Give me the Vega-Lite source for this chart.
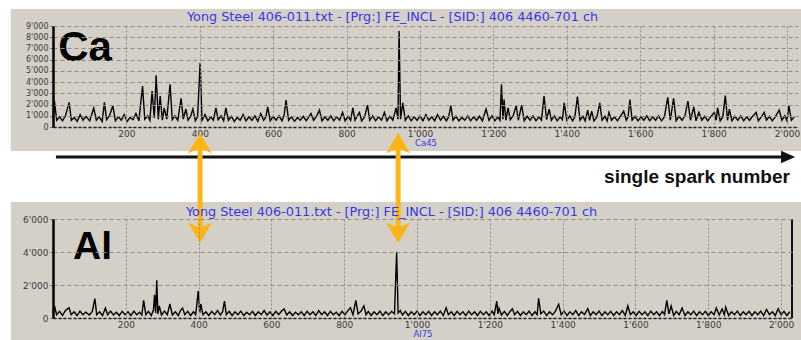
{
  "$schema": "https://vega.github.io/schema/vega-lite/v6.json",
  "padding": {"left": 10, "top": 8, "right": 0, "bottom": 0},
  "background": "white",
  "bounds": "flush",
  "spacing": 92,
  "config": {
    "view": {"stroke": null, "fill": "#d4d0c8"},
    "font": "Liberation Sans",
    "axis": {"labelFont": "DejaVu Sans", "labelFontSize": 9, "labelColor": "#3a3a3a", "labelOverlap": false, "labelSeparation": 0, "labelBound": false, "titleFont": "DejaVu Sans", "titleFontSize": 8.5, "titleFontWeight": "normal", "titleColor": "#3636e8", "gridColor": "#8c8c8c", "gridWidth": 1},
    "axisX": {"gridDash": [2, 2], "ticks": false, "labelPadding": 2, "titlePadding": 0, "domainColor": "#222", "domainDash": [3, 2], "domainWidth": 1.5},
    "axisY": {"gridDash": [4, 3], "tickSize": 3, "tickColor": "#666", "labelPadding": 2, "labelOverlap": false, "domainColor": "#000", "domainWidth": 2.5}
  },
  "datasets": {
    "ca": [
      {"x":0,"y":800},{"x":4,"y":2300},{"x":10,"y":600},{"x":18,"y":900},{"x":26,"y":550},{"x":34,"y":1000},{"x":44,"y":2200},{"x":50,"y":600},{"x":58,"y":850},{"x":66,"y":500},{"x":74,"y":1100},{"x":82,"y":600},{"x":90,"y":950},{"x":100,"y":550},{"x":111,"y":1700},{"x":118,"y":600},{"x":126,"y":900},{"x":134,"y":500},{"x":140,"y":2200},{"x":146,"y":650},{"x":154,"y":1000},{"x":163,"y":1900},{"x":170,"y":550},{"x":178,"y":900},{"x":186,"y":600},{"x":194,"y":1100},{"x":202,"y":500},{"x":210,"y":850},{"x":218,"y":650},{"x":226,"y":1200},{"x":234,"y":550},{"x":244,"y":3650},{"x":250,"y":700},{"x":258,"y":1000},{"x":264,"y":600},{"x":270,"y":3200},{"x":276,"y":800},{"x":281,"y":4600},{"x":287,"y":700},{"x":292,"y":2750},{"x":298,"y":600},{"x":303,"y":1700},{"x":310,"y":700},{"x":319,"y":3800},{"x":325,"y":650},{"x":332,"y":1000},{"x":340,"y":600},{"x":349,"y":2550},{"x":355,"y":700},{"x":362,"y":1600},{"x":368,"y":600},{"x":375,"y":950},{"x":381,"y":1600},{"x":388,"y":550},{"x":394,"y":900},{"x":401,"y":5730},{"x":406,"y":600},{"x":414,"y":1100},{"x":422,"y":550},{"x":430,"y":900},{"x":437,"y":600},{"x":444,"y":1700},{"x":450,"y":650},{"x":458,"y":1000},{"x":465,"y":550},{"x":471,"y":1700},{"x":478,"y":600},{"x":486,"y":950},{"x":494,"y":500},{"x":502,"y":850},{"x":510,"y":600},{"x":518,"y":1100},{"x":526,"y":550},{"x":534,"y":900},{"x":542,"y":600},{"x":550,"y":1000},{"x":558,"y":500},{"x":566,"y":1200},{"x":574,"y":600},{"x":580,"y":900},{"x":585,"y":1800},{"x":592,"y":550},{"x":600,"y":950},{"x":608,"y":600},{"x":616,"y":1000},{"x":624,"y":550},{"x":630,"y":1100},{"x":635,"y":2400},{"x":642,"y":600},{"x":650,"y":900},{"x":658,"y":500},{"x":666,"y":850},{"x":674,"y":600},{"x":682,"y":950},{"x":690,"y":550},{"x":697,"y":900},{"x":703,"y":1200},{"x":710,"y":600},{"x":718,"y":950},{"x":726,"y":1500},{"x":733,"y":550},{"x":741,"y":900},{"x":749,"y":600},{"x":757,"y":1000},{"x":765,"y":550},{"x":773,"y":900},{"x":781,"y":600},{"x":789,"y":1300},{"x":796,"y":550},{"x":804,"y":950},{"x":811,"y":600},{"x":817,"y":1700},{"x":823,"y":600},{"x":829,"y":1000},{"x":835,"y":1300},{"x":841,"y":550},{"x":849,"y":900},{"x":857,"y":1950},{"x":863,"y":600},{"x":871,"y":1000},{"x":879,"y":550},{"x":887,"y":900},{"x":895,"y":600},{"x":903,"y":1300},{"x":910,"y":550},{"x":918,"y":950},{"x":926,"y":600},{"x":935,"y":1700},{"x":940,"y":700},{"x":943,"y":8550},{"x":947,"y":700},{"x":953,"y":2150},{"x":960,"y":600},{"x":968,"y":1000},{"x":976,"y":550},{"x":984,"y":900},{"x":992,"y":600},{"x":1000,"y":1000},{"x":1008,"y":550},{"x":1016,"y":1100},{"x":1024,"y":600},{"x":1032,"y":900},{"x":1040,"y":550},{"x":1048,"y":1100},{"x":1056,"y":600},{"x":1064,"y":950},{"x":1072,"y":550},{"x":1078,"y":900},{"x":1084,"y":1900},{"x":1090,"y":600},{"x":1098,"y":950},{"x":1106,"y":550},{"x":1114,"y":850},{"x":1122,"y":600},{"x":1130,"y":1000},{"x":1138,"y":550},{"x":1146,"y":900},{"x":1154,"y":600},{"x":1162,"y":950},{"x":1170,"y":550},{"x":1180,"y":1600},{"x":1188,"y":600},{"x":1196,"y":1000},{"x":1204,"y":550},{"x":1212,"y":900},{"x":1218,"y":600},{"x":1222,"y":3800},{"x":1226,"y":700},{"x":1229,"y":2450},{"x":1234,"y":600},{"x":1240,"y":1700},{"x":1246,"y":650},{"x":1254,"y":1000},{"x":1262,"y":1900},{"x":1268,"y":600},{"x":1277,"y":1950},{"x":1284,"y":550},{"x":1292,"y":950},{"x":1300,"y":600},{"x":1308,"y":1000},{"x":1316,"y":550},{"x":1324,"y":900},{"x":1331,"y":600},{"x":1338,"y":2750},{"x":1345,"y":650},{"x":1352,"y":1600},{"x":1358,"y":600},{"x":1366,"y":1000},{"x":1374,"y":550},{"x":1382,"y":900},{"x":1388,"y":650},{"x":1393,"y":2150},{"x":1400,"y":600},{"x":1408,"y":1000},{"x":1416,"y":550},{"x":1422,"y":900},{"x":1429,"y":2700},{"x":1436,"y":600},{"x":1444,"y":950},{"x":1450,"y":550},{"x":1457,"y":1500},{"x":1462,"y":600},{"x":1468,"y":1400},{"x":1474,"y":550},{"x":1482,"y":900},{"x":1490,"y":2150},{"x":1496,"y":600},{"x":1504,"y":950},{"x":1510,"y":550},{"x":1515,"y":1300},{"x":1522,"y":600},{"x":1530,"y":900},{"x":1538,"y":550},{"x":1546,"y":950},{"x":1555,"y":1400},{"x":1562,"y":600},{"x":1567,"y":900},{"x":1572,"y":2450},{"x":1578,"y":600},{"x":1586,"y":950},{"x":1594,"y":550},{"x":1602,"y":900},{"x":1610,"y":600},{"x":1618,"y":1000},{"x":1626,"y":550},{"x":1634,"y":900},{"x":1642,"y":600},{"x":1650,"y":1000},{"x":1658,"y":550},{"x":1666,"y":900},{"x":1675,"y":2650},{"x":1682,"y":600},{"x":1691,"y":2550},{"x":1698,"y":550},{"x":1706,"y":950},{"x":1714,"y":600},{"x":1722,"y":1000},{"x":1730,"y":2300},{"x":1737,"y":600},{"x":1746,"y":1800},{"x":1752,"y":550},{"x":1760,"y":1300},{"x":1768,"y":600},{"x":1776,"y":950},{"x":1784,"y":550},{"x":1792,"y":900},{"x":1802,"y":1300},{"x":1807,"y":600},{"x":1811,"y":1700},{"x":1818,"y":550},{"x":1825,"y":900},{"x":1832,"y":2800},{"x":1838,"y":600},{"x":1843,"y":1600},{"x":1850,"y":550},{"x":1858,"y":950},{"x":1866,"y":600},{"x":1874,"y":1000},{"x":1882,"y":550},{"x":1890,"y":900},{"x":1898,"y":600},{"x":1906,"y":950},{"x":1916,"y":1300},{"x":1922,"y":550},{"x":1930,"y":900},{"x":1938,"y":1300},{"x":1944,"y":600},{"x":1952,"y":950},{"x":1960,"y":550},{"x":1968,"y":900},{"x":1979,"y":1500},{"x":1986,"y":600},{"x":1994,"y":1000},{"x":2000,"y":550},{"x":2005,"y":1900},{"x":2012,"y":600},{"x":2020,"y":900}
    ],
    "al": [
      {"x":0,"y":300},{"x":4,"y":730},{"x":10,"y":200},{"x":18,"y":400},{"x":26,"y":150},{"x":34,"y":450},{"x":44,"y":620},{"x":50,"y":200},{"x":58,"y":380},{"x":66,"y":150},{"x":74,"y":420},{"x":82,"y":200},{"x":90,"y":350},{"x":100,"y":180},{"x":108,"y":400},{"x":115,"y":1170},{"x":120,"y":200},{"x":128,"y":380},{"x":136,"y":150},{"x":144,"y":600},{"x":150,"y":200},{"x":158,"y":420},{"x":166,"y":180},{"x":174,"y":350},{"x":182,"y":150},{"x":190,"y":400},{"x":198,"y":200},{"x":206,"y":380},{"x":214,"y":150},{"x":222,"y":420},{"x":230,"y":200},{"x":238,"y":350},{"x":244,"y":180},{"x":249,"y":1070},{"x":255,"y":200},{"x":262,"y":400},{"x":270,"y":150},{"x":276,"y":500},{"x":279,"y":1400},{"x":282,"y":300},{"x":285,"y":2280},{"x":288,"y":250},{"x":292,"y":730},{"x":298,"y":180},{"x":306,"y":420},{"x":314,"y":200},{"x":321,"y":850},{"x":328,"y":180},{"x":336,"y":380},{"x":344,"y":150},{"x":350,"y":450},{"x":356,"y":600},{"x":362,"y":200},{"x":370,"y":400},{"x":378,"y":150},{"x":386,"y":380},{"x":392,"y":200},{"x":399,"y":1640},{"x":403,"y":300},{"x":406,"y":850},{"x":412,"y":200},{"x":420,"y":380},{"x":428,"y":150},{"x":436,"y":400},{"x":444,"y":200},{"x":452,"y":450},{"x":460,"y":180},{"x":466,"y":380},{"x":471,"y":1030},{"x":476,"y":200},{"x":484,"y":400},{"x":492,"y":150},{"x":500,"y":380},{"x":508,"y":200},{"x":516,"y":420},{"x":524,"y":150},{"x":532,"y":350},{"x":540,"y":200},{"x":548,"y":400},{"x":556,"y":150},{"x":564,"y":380},{"x":572,"y":200},{"x":580,"y":450},{"x":588,"y":180},{"x":596,"y":380},{"x":604,"y":150},{"x":612,"y":400},{"x":620,"y":200},{"x":628,"y":420},{"x":635,"y":550},{"x":642,"y":180},{"x":650,"y":380},{"x":658,"y":150},{"x":666,"y":350},{"x":674,"y":200},{"x":682,"y":380},{"x":690,"y":150},{"x":698,"y":400},{"x":706,"y":200},{"x":714,"y":380},{"x":722,"y":150},{"x":730,"y":450},{"x":738,"y":200},{"x":746,"y":380},{"x":754,"y":150},{"x":762,"y":400},{"x":770,"y":200},{"x":778,"y":350},{"x":786,"y":150},{"x":794,"y":400},{"x":802,"y":200},{"x":810,"y":450},{"x":817,"y":620},{"x":824,"y":200},{"x":832,"y":1070},{"x":838,"y":250},{"x":846,"y":400},{"x":854,"y":730},{"x":860,"y":200},{"x":866,"y":400},{"x":874,"y":150},{"x":882,"y":380},{"x":890,"y":200},{"x":898,"y":420},{"x":906,"y":150},{"x":914,"y":380},{"x":922,"y":200},{"x":930,"y":400},{"x":938,"y":250},{"x":944,"y":4020},{"x":948,"y":300},{"x":954,"y":450},{"x":960,"y":180},{"x":968,"y":400},{"x":976,"y":150},{"x":984,"y":380},{"x":992,"y":200},{"x":1000,"y":420},{"x":1008,"y":150},{"x":1016,"y":380},{"x":1024,"y":200},{"x":1032,"y":400},{"x":1040,"y":150},{"x":1048,"y":380},{"x":1056,"y":200},{"x":1064,"y":420},{"x":1072,"y":150},{"x":1080,"y":620},{"x":1086,"y":200},{"x":1094,"y":380},{"x":1102,"y":150},{"x":1110,"y":400},{"x":1118,"y":200},{"x":1126,"y":380},{"x":1134,"y":150},{"x":1142,"y":420},{"x":1150,"y":200},{"x":1158,"y":380},{"x":1166,"y":150},{"x":1174,"y":400},{"x":1182,"y":200},{"x":1190,"y":380},{"x":1198,"y":150},{"x":1206,"y":420},{"x":1212,"y":200},{"x":1219,"y":1030},{"x":1222,"y":250},{"x":1225,"y":600},{"x":1232,"y":180},{"x":1240,"y":400},{"x":1248,"y":150},{"x":1255,"y":380},{"x":1262,"y":560},{"x":1268,"y":200},{"x":1276,"y":400},{"x":1284,"y":150},{"x":1292,"y":380},{"x":1300,"y":200},{"x":1308,"y":420},{"x":1316,"y":150},{"x":1324,"y":380},{"x":1330,"y":200},{"x":1334,"y":1190},{"x":1340,"y":250},{"x":1348,"y":420},{"x":1356,"y":150},{"x":1364,"y":380},{"x":1372,"y":200},{"x":1380,"y":400},{"x":1389,"y":830},{"x":1396,"y":200},{"x":1404,"y":420},{"x":1412,"y":150},{"x":1420,"y":380},{"x":1428,"y":200},{"x":1436,"y":450},{"x":1444,"y":150},{"x":1452,"y":380},{"x":1460,"y":200},{"x":1469,"y":560},{"x":1476,"y":150},{"x":1484,"y":380},{"x":1492,"y":200},{"x":1500,"y":420},{"x":1508,"y":150},{"x":1516,"y":380},{"x":1524,"y":200},{"x":1532,"y":400},{"x":1540,"y":150},{"x":1548,"y":380},{"x":1556,"y":200},{"x":1564,"y":450},{"x":1572,"y":150},{"x":1579,"y":730},{"x":1586,"y":200},{"x":1594,"y":380},{"x":1602,"y":150},{"x":1610,"y":400},{"x":1618,"y":200},{"x":1626,"y":380},{"x":1634,"y":150},{"x":1642,"y":420},{"x":1650,"y":200},{"x":1658,"y":380},{"x":1666,"y":150},{"x":1674,"y":400},{"x":1680,"y":200},{"x":1686,"y":1070},{"x":1692,"y":250},{"x":1698,"y":730},{"x":1705,"y":150},{"x":1712,"y":400},{"x":1720,"y":200},{"x":1728,"y":600},{"x":1736,"y":150},{"x":1744,"y":380},{"x":1752,"y":200},{"x":1760,"y":420},{"x":1768,"y":150},{"x":1776,"y":380},{"x":1784,"y":200},{"x":1792,"y":400},{"x":1800,"y":150},{"x":1808,"y":380},{"x":1816,"y":200},{"x":1822,"y":600},{"x":1830,"y":180},{"x":1838,"y":550},{"x":1844,"y":200},{"x":1848,"y":650},{"x":1856,"y":150},{"x":1864,"y":380},{"x":1872,"y":200},{"x":1880,"y":420},{"x":1888,"y":150},{"x":1896,"y":380},{"x":1904,"y":200},{"x":1912,"y":400},{"x":1920,"y":150},{"x":1928,"y":380},{"x":1936,"y":200},{"x":1944,"y":420},{"x":1952,"y":150},{"x":1960,"y":520},{"x":1968,"y":200},{"x":1976,"y":380},{"x":1984,"y":150},{"x":1992,"y":560},{"x":2000,"y":200},{"x":2008,"y":400},{"x":2016,"y":150},{"x":2024,"y":380}
    ],
    "arrows": [{"spark": 404}, {"spark": 948}]
  },
  "vconcat": [
    {
      "width": 745,
      "height": 101,
      "title": {"text": "Yong Steel 406-011.txt - [Prg:] FE_INCL - [SID:] 406 4460-701 ch", "fontSize": 12.8, "fontWeight": "normal", "color": "#3636e8", "offset": 4, "dx": -33, "dy": 19, "anchor": "middle", "frame": "group", "font": "DejaVu Sans"},
      "layer": [
        {
          "data": {"values": [{}]},
          "mark": {"type": "rect", "color": "#d4d0c8", "clip": false},
          "encoding": {"x": {"datum": -115, "type": "quantitative"}, "x2": {"datum": 2045}, "y": {"datum": 10515, "type": "quantitative"}, "y2": {"datum": 8985}}
        },
        {
          "data": {"values": [{}]},
          "mark": {"type": "rect", "color": "#d4d0c8", "clip": false},
          "encoding": {"x": {"datum": -115, "type": "quantitative"}, "x2": {"datum": 2045}, "y": {"datum": 15, "type": "quantitative"}, "y2": {"datum": -2139}}
        },
        {
          "data": {"values": [{}]},
          "mark": {"type": "rect", "color": "#d4d0c8", "clip": false},
          "encoding": {"x": {"datum": -115, "type": "quantitative"}, "x2": {"datum": 1.5}, "y": {"datum": 0, "type": "quantitative"}, "y2": {"datum": 9000}}
        },
        {
          "data": {"values": [{}]},
          "mark": {"type": "rect", "color": "#d4d0c8", "clip": false},
          "encoding": {"x": {"datum": 2028.5, "type": "quantitative"}, "x2": {"datum": 2045}, "y": {"datum": 0, "type": "quantitative"}, "y2": {"datum": 9000}}
        },
        {
          "data": {"name": "ca"},
          "mark": {"type": "line", "color": "#000", "strokeWidth": 1.4},
          "encoding": {
            "x": {"field": "x", "type": "quantitative", "scale": {"domain": [0, 2030], "nice": false, "zero": false},
              "axis": {"values": [200, 400, 600, 800, 1000, 1200, 1400, 1600, 1800, 2000], "tickCount": 10, "title": "Ca45", "zindex": 1, "grid": true, "labelOverlap": false, "labelExpr": "replace(format(datum.value, ','), ',', \"'\")"}},
            "y": {"field": "y", "type": "quantitative", "scale": {"domain": [0, 9000], "nice": false},
              "axis": {"values": [0, 1000, 2000, 3000, 4000, 5000, 6000, 7000, 8000, 9000], "tickCount": 10, "title": null, "zindex": 1, "grid": true, "labelOverlap": false, "labelSeparation": 0, "labelFontSize": 8, "labelExpr": "replace(format(datum.value, ','), ',', \"'\")"}}
          }
        },
        {
          "data": {"values": [{}]},
          "mark": {"type": "text", "text": "Ca", "fontSize": 42, "fontWeight": "bold", "align": "left", "baseline": "alphabetic", "font": "Liberation Sans", "color": "#000"},
          "encoding": {"x": {"datum": 14, "type": "quantitative"}, "y": {"datum": 5881, "type": "quantitative"}}
        },
        {
          "data": {"values": [{}]},
          "mark": {"type": "rule", "strokeWidth": 3, "color": "#111"},
          "encoding": {"x": {"datum": 8, "type": "quantitative"}, "x2": {"datum": 1992}, "y": {"datum": -2673, "type": "quantitative"}}
        },
        {
          "data": {"values": [{}]},
          "mark": {"type": "point", "filled": true, "shape": "M1,0 L-1,-0.9 L-1,0.9 Z", "size": 196, "color": "#111", "opacity": 1},
          "encoding": {"x": {"datum": 2003, "type": "quantitative"}, "y": {"datum": -2673, "type": "quantitative"}}
        },
        {
          "data": {"values": [{}]},
          "mark": {"type": "text", "text": "single spark number", "fontSize": 19, "fontWeight": "bold", "align": "right", "baseline": "middle", "font": "Liberation Sans", "color": "#111"},
          "encoding": {"x": {"datum": 2008, "type": "quantitative"}, "y": {"datum": -4455, "type": "quantitative"}}
        }
      ]
    },
    {
      "width": 739,
      "height": 99,
      "title": {"text": "Yong Steel 406-011.txt - [Prg:] FE_INCL - [SID:] 406 4460-701 ch", "fontSize": 12.8, "fontWeight": "normal", "color": "#3636e8", "offset": 2, "dx": -31, "dy": 88, "anchor": "middle", "frame": "group", "font": "DejaVu Sans"},
      "layer": [
        {
          "data": {"values": [{}]},
          "mark": {"type": "rect", "color": "#d4d0c8", "clip": false},
          "encoding": {"x": {"datum": -116, "type": "quantitative"}, "x2": {"datum": 2060}, "y": {"datum": 7030, "type": "quantitative"}, "y2": {"datum": 5990}}
        },
        {
          "data": {"values": [{}]},
          "mark": {"type": "rect", "color": "#d4d0c8", "clip": false},
          "encoding": {"x": {"datum": -116, "type": "quantitative"}, "x2": {"datum": 2060}, "y": {"datum": 10, "type": "quantitative"}, "y2": {"datum": -1500}}
        },
        {
          "data": {"values": [{}]},
          "mark": {"type": "rect", "color": "#d4d0c8", "clip": false},
          "encoding": {"x": {"datum": -116, "type": "quantitative"}, "x2": {"datum": 1.5}, "y": {"datum": 0, "type": "quantitative"}, "y2": {"datum": 6000}}
        },
        {
          "data": {"values": [{}]},
          "mark": {"type": "rect", "color": "#d4d0c8", "clip": false},
          "encoding": {"x": {"datum": 2028.5, "type": "quantitative"}, "x2": {"datum": 2060}, "y": {"datum": 0, "type": "quantitative"}, "y2": {"datum": 6000}}
        },
        {
          "data": {"name": "al"},
          "mark": {"type": "line", "color": "#000", "strokeWidth": 1.4},
          "encoding": {
            "x": {"field": "x", "type": "quantitative", "scale": {"domain": [0, 2030], "nice": false, "zero": false},
              "axis": {"values": [200, 400, 600, 800, 1000, 1200, 1400, 1600, 1800, 2000], "tickCount": 10, "title": "Al75", "zindex": 1, "grid": true, "labelOverlap": false, "labelExpr": "replace(format(datum.value, ','), ',', \"'\")"}},
            "y": {"field": "y", "type": "quantitative", "scale": {"domain": [0, 6000], "nice": false},
              "axis": {"values": [0, 1000, 2000, 3000, 4000, 5000, 6000], "tickCount": 6, "title": null, "zindex": 1, "grid": true, "labelOverlap": false, "labelSeparation": 0, "labelFontSize": 9, "labelExpr": "replace(format(datum.value, ','), ',', \"'\")"}}
          }
        },
        {
          "data": {"values": [{}]},
          "mark": {"type": "rule", "strokeWidth": 2, "color": "#111"},
          "encoding": {"x": {"datum": 2030, "type": "quantitative"}, "y": {"datum": 0, "type": "quantitative"}, "y2": {"datum": 6000}}
        },
        {
          "data": {"values": [{}]},
          "mark": {"type": "text", "text": "Al", "fontSize": 39, "fontWeight": "bold", "align": "left", "baseline": "alphabetic", "font": "Liberation Sans", "color": "#000"},
          "encoding": {"x": {"datum": 55, "type": "quantitative"}, "y": {"datum": 3575, "type": "quantitative"}}
        },
        {
          "data": {"name": "arrows"},
          "mark": {"type": "rule", "strokeWidth": 5, "color": "#FDB515"},
          "encoding": {"x": {"field": "spark", "type": "quantitative", "title": "Al75"}, "y": {"datum": 10726, "type": "quantitative"}, "y2": {"datum": 4969}}
        },
        {
          "data": {"name": "arrows"},
          "mark": {"type": "point", "filled": true, "shape": "M0,-1 L1,0.7 L0,0.25 L-1,0.7 Z", "size": 576, "color": "#FDB515", "opacity": 1},
          "encoding": {"x": {"field": "spark", "type": "quantitative", "title": "Al75"}, "y": {"datum": 10484, "type": "quantitative"}}
        },
        {
          "data": {"name": "arrows"},
          "mark": {"type": "point", "filled": true, "shape": "M0,1 L1,-0.7 L0,-0.25 L-1,-0.7 Z", "size": 576, "color": "#FDB515", "opacity": 1},
          "encoding": {"x": {"field": "spark", "type": "quantitative", "title": "Al75"}, "y": {"datum": 5272, "type": "quantitative"}}
        }
      ]
    }
  ]
}
